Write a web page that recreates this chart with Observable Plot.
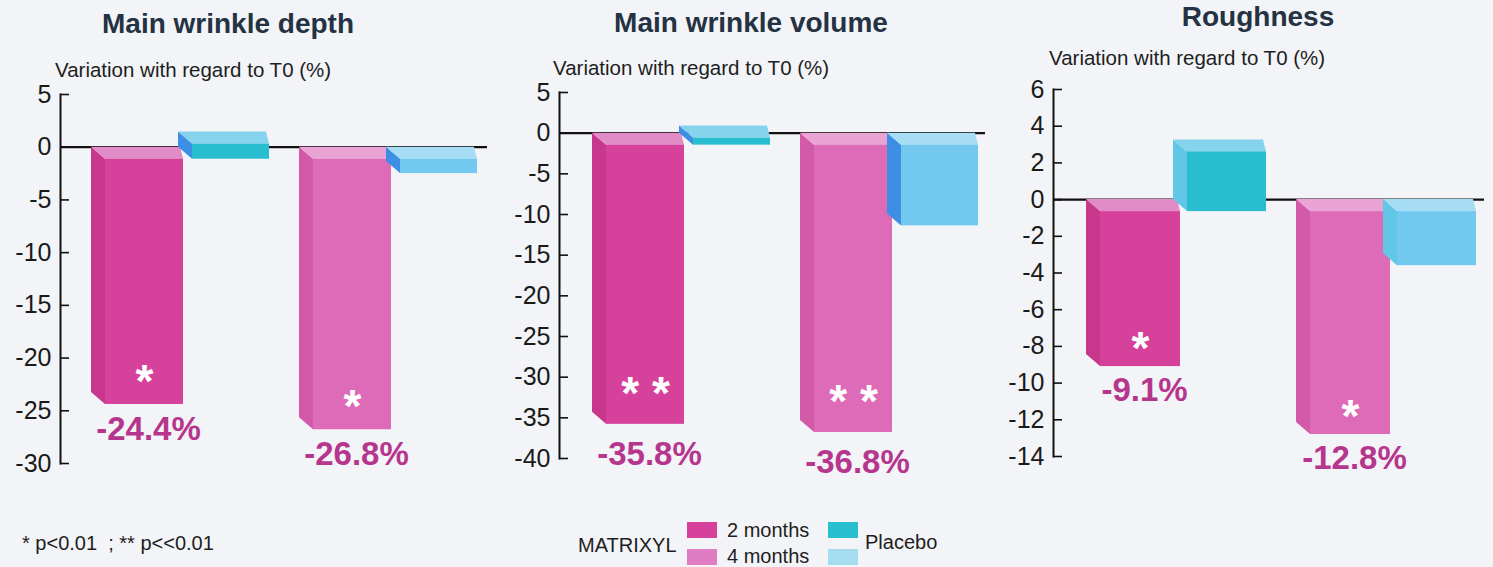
<!DOCTYPE html>
<html><head><meta charset="utf-8">
<script src="https://cdn.jsdelivr.net/npm/d3@7"></script>
<script src="https://cdn.jsdelivr.net/npm/@observablehq/plot@0.6"></script>
<style>
html,body{margin:0;padding:0;background:#f2f4f7;}
#root{position:relative;width:1493px;height:567px;overflow:hidden;font-family:"Liberation Sans",Arial,Helvetica,sans-serif;color:#1e1e1e;}
.abs{position:absolute;white-space:nowrap;line-height:1;}
.title{font-weight:bold;font-size:28px;color:#243243;transform:translateX(-50%);}
.ylab{font-size:20.5px;color:#1e1e1e;}
.note{font-size:20px;}
.sw{position:absolute;width:30px;height:16px;}
</style></head><body><div id="root"></div>
<script>
// ---------- data ----------
const titles = ["Main wrinkle depth", "Main wrinkle volume", "Roughness"];
const yLabel = "Variation with regard to T0 (%)";
const periods = ["2 months", "4 months"];
const products = ["MATRIXYL", "Placebo"];

const depthMatrixyl = [-24.4, -26.8];
const depthPlacebo = [0.3, -2.5];
const depthStars = ["*", "*"];
const depthDomain = [-30, 5];
const depthTicks = [5, 0, -5, -10, -15, -20, -25, -30];

const volumeMatrixyl = [-35.8, -36.8];
const volumePlacebo = [-0.6, -11.4];
const volumeStars = ["* *", "* *"];
const volumeDomain = [-40, 5];
const volumeTicks = [5, 0, -5, -10, -15, -20, -25, -30, -35, -40];

const roughMatrixyl = [-9.1, -12.8];
const roughPlacebo = [2.6, -3.6];
const roughStars = ["*", "*"];
const roughDomain = [-14, 6];
const roughTicks = [6, 4, 2, 0, -2, -4, -6, -8, -10, -12, -14];

const footnote = "* p<0.01\u00a0 ; ** p<<0.01";
const legendGroup = "MATRIXYL";
const legendPeriods = ["2 months", "4 months"];
const legendPlacebo = "Placebo";

// ---------- styles ----------
const FONT = "Liberation Sans, Arial, Helvetica, sans-serif";
const faceColors = {
  "MATRIXYL|2 months": {front: "#d6419b", side: "#c7378c", top: "#e18bc7"},
  "MATRIXYL|4 months": {front: "#de6bb8", side: "#d35aa9", top: "#e9a4d5"},
  "Placebo|2 months": {front: "#28bdcf", side: "#3d8fe4", top: "#86d3ee"},
  "Placebo|4 months": {front: "#72c8ee", side: "#3d8fe4", top: "#a6dcf4"}
};
const DEPTH = 12;   // vertical 3D offset (px)
const SHIFT_L = 14; // left 3D offset (px)
const SHIFT_R = 3;

function rowsFor(matrixyl, placebo, stars) {
  return periods.flatMap((p, i) => [
    {product: products[0], period: p, value: matrixyl[i], stars: stars[i]},
    {product: products[1], period: p, value: placebo[i], stars: ""}
  ]);
}

const panels = [
  {title: titles[0], rows: rowsFor(depthMatrixyl, depthPlacebo, depthStars), domain: depthDomain, ticks: depthTicks,
   left: 0, width: 495, mt: 94, mb: 37, mr: 8, align: 0.82, titleX: 228, titleY: 10, labX: 55, labY: 60,
   starDy: -22, valDy: 25, sideP: null},
  {title: titles[1], rows: rowsFor(volumeMatrixyl, volumePlacebo, volumeStars), domain: volumeDomain, ticks: volumeTicks,
   left: 499, width: 494, mt: 92, mb: 42, mr: 8, align: 0.87, titleX: 751, titleY: 9, labX: 553, labY: 58,
   starDy: -30, valDy: 30, sideP: null},
  {title: titles[2], rows: rowsFor(roughMatrixyl, roughPlacebo, roughStars), domain: roughDomain, ticks: roughTicks,
   left: 993, width: 500, mt: 89, mb: 44, mr: 9, align: 0.86, titleX: 1258, titleY: 3, labX: 1049, labY: 48,
   starDy: -17, valDy: 24, sideP: "#62c6e6"}
];

const H = 500;
const M_INSET_R = 86, P_INSET_L = 87, P_INSET_R = 0;

function faces(rows, insetLeft, insetRight, sideOverride) {
  return (index, scales) => {
    const g = d3.create("svg:g");
    const x = scales.x, y = scales.y, bw = x.bandwidth();
    for (const d of rows) {
      const c = faceColors[d.product + "|" + d.period];
      const xl = x(d.period) + insetLeft, xr = x(d.period) + bw - insetRight;
      const yv = y(d.value), yz = y(0) + DEPTH;
      const top = Math.min(yv, yz), bot = Math.max(yv, yz);
      g.append("path")
        .attr("d", `M${xl - SHIFT_L},${top - DEPTH}L${xl},${top}L${xl},${bot}L${xl - SHIFT_L},${bot - DEPTH}Z`)
        .attr("fill", (d.product === "Placebo" && sideOverride) ? sideOverride : c.side);
      g.append("path")
        .attr("d", `M${xl - SHIFT_L},${top - DEPTH}L${xr - SHIFT_R},${top - DEPTH}L${xr},${top}L${xl},${top}Z`)
        .attr("fill", c.top);
    }
    return g.node();
  };
}

const root = document.getElementById("root");

for (const P of panels) {
  const innerH = H - P.mt - P.mb;
  const innerW = P.width - 60 - P.mr;
  const k = innerH / (P.domain[1] - P.domain[0]);
  const depthU = -DEPTH / k; // front face zero-end in data units
  const mRows = P.rows.filter(d => d.product === "MATRIXYL");
  const pRows = P.rows.filter(d => d.product === "Placebo");
  const frontFill = d => faceColors[d.product + "|" + d.period].front;

  const chart = Plot.plot({
    width: P.width, height: H,
    marginLeft: 60, marginRight: P.mr, marginTop: P.mt, marginBottom: P.mb,
    style: {fontFamily: FONT, background: "transparent", overflow: "visible"},
    x: {domain: periods, paddingInner: 0.21, paddingOuter: 0.127, align: P.align, axis: null},
    y: {domain: P.domain, nice: false, axis: null},
    marks: [
      Plot.ruleY([0], {stroke: "#111", strokeWidth: 2.2}),
      faces(mRows, 0, M_INSET_R, null),
      Plot.rectY(mRows, {x: "period", y1: "value", y2: depthU, fill: frontFill, insetLeft: 0, insetRight: M_INSET_R}),
      faces(pRows, P_INSET_L, P_INSET_R, P.sideP),
      Plot.rectY(pRows, {x: "period", y1: "value", y2: depthU, fill: frontFill, insetLeft: P_INSET_L, insetRight: P_INSET_R}),
      Plot.frame({anchor: "left", stroke: "#111", strokeWidth: 2}),
      Plot.ruleY(P.ticks, {stroke: "#111", strokeWidth: 1.6, insetRight: innerW - 9}),
      Plot.axisY({ticks: P.ticks, tickSize: 0, tickPadding: 9, fontSize: 25, tickFormat: d => String(d), label: null, fill: "#1a1a1a"}),
      Plot.text(mRows, {x: "period", y: "value", text: "stars", dx: -43, dy: P.starDy, fill: "white", fontSize: 46, fontWeight: "bold"}),
      Plot.text(mRows, {x: "period", y: "value", text: d => `${d.value}%`, dx: -39, dy: P.valDy, fill: "#b7368d", fontSize: 33, fontWeight: "bold"})
    ]
  });
  chart.style.position = "absolute";
  chart.style.left = P.left + "px";
  chart.style.top = "0px";
  root.appendChild(chart);

  const t = document.createElement("div");
  t.className = "abs title"; t.textContent = P.title;
  t.style.left = P.titleX + "px"; t.style.top = P.titleY + "px";
  root.appendChild(t);
  const l = document.createElement("div");
  l.className = "abs ylab"; l.textContent = yLabel;
  l.style.left = P.labX + "px"; l.style.top = P.labY + "px";
  root.appendChild(l);
}

// footnote
function addText(txt, x, y, cls, extra) {
  const e = document.createElement("div");
  e.className = "abs " + cls; e.textContent = txt;
  e.style.left = x + "px"; e.style.top = y + "px";
  if (extra) Object.assign(e.style, extra);
  root.appendChild(e);
}
addText(footnote, 22, 533, "note");
// legend
addText(legendGroup, 578, 535, "note");
addText(legendPeriods[0], 727, 520, "note");
addText(legendPeriods[1], 727, 546, "note");
addText(legendPlacebo, 865, 532, "note");
const swatches = [
  [687, 522, faceColors["MATRIXYL|2 months"].front],
  [687, 549, "#e07cc2"],
  [828, 522, faceColors["Placebo|2 months"].front],
  [828, 549, "#a4dcf0"]
];
for (const [x, y, c] of swatches) {
  const s = document.createElement("div");
  s.className = "sw"; s.style.left = x + "px"; s.style.top = y + "px"; s.style.background = c;
  root.appendChild(s);
}
</script>
</body></html>
